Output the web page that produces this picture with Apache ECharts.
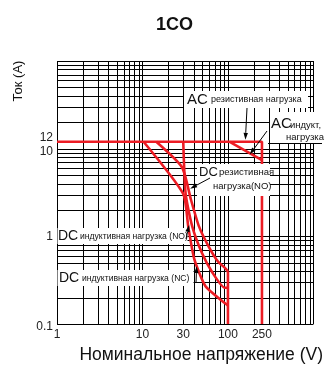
<!DOCTYPE html>
<html>
<head>
<meta charset="utf-8">
<script src="https://cdn.jsdelivr.net/npm/echarts@6/dist/echarts.min.js"></script>
<style>
  html, body { margin: 0; padding: 0; background: #fff; }
  #chart { width: 326px; height: 369px; }
</style>
</head>
<body>
<div id="chart"></div>
<script>
// Tick labels shown on the axes
const xTickLabels = [1, 10, 30, 100, 250];
const yTickLabels = [0.1, 1, 10, 12];

// Switching-capacity boundaries: [voltage V, current A]
const acResistive   = [[1, 12], [250, 12], [250, 0.1]];
const acInductive   = [[105, 12], [250, 7.4]];
const dcResistiveNO = [[14.5, 12], [29, 6.15], [37, 2.6], [45.8, 1.3], [59.3, 0.77], [76, 0.52], [91.5, 0.44], [100, 0.40]];
const dcInductiveNO = [[30, 12], [32, 3.05], [38.2, 1.3], [49.5, 0.65], [66, 0.385], [91.5, 0.26], [100, 0.26]];
const dcInductiveNC = [[10.3, 12], [30, 3.05], [34.3, 1.3], [40.4, 0.55], [54.6, 0.27], [85, 0.185], [100, 0.163]];
const dcVoltageLimit = [[100, 0.40], [100, 0.1]];

// Logarithmic paper: a line at every 1..9 step of each decade
const xDecades = [1, 10, 100];
const yDecades = [0.1, 1, 10];
const gridX = [], gridY = [];
xDecades.forEach(d => { for (let k = 1; k <= 9; k++) gridX.push([k * d, 1]); });
gridX.push([1000, 1]);
yDecades.forEach(d => { for (let k = 1; k <= 9; k++) gridY.push([10, +(k * d).toPrecision(6)]); });
gridY.push([10, 100]);

const RED = '#ec1c24';
const FONT = '"Liberation Sans", Arial, sans-serif';
const NARROW = '"Liberation Sans Narrow", "Liberation Sans", Arial, sans-serif';

function fmt(v) { return String(+(+v).toPrecision(6)); }

function redLine(name, data, smooth) {
  return {
    name, type: 'line', data, symbol: 'none', z: 5, smooth: smooth || false,
    lineStyle: { color: RED, width: 2.6 },
    emphasis: { disabled: true }, silent: true
  };
}

const option = {
  animation: false,
  title: {
    text: '1CO', left: 151, top: 11,
    textStyle: { fontSize: 18, fontWeight: 'bold', fontFamily: FONT, color: '#111' }
  },
  grid: { left: 57, right: 4, top: 61, bottom: 40 },
  xAxis: {
    type: 'log', logBase: 10, min: 1, max: 1000,
    name: 'Номинальное напряжение (V)', nameLocation: 'middle', nameGap: 16,
    nameTextStyle: { fontSize: 17.5, fontFamily: FONT, color: '#111', padding: [0, 0, 0, 32] },
    axisLine: { show: false }, axisTick: { show: false }, splitLine: { show: false },
    axisLabel: {
      customValues: xTickLabels, formatter: fmt, margin: 5,
      fontSize: 12, fontFamily: FONT, color: '#222'
    }
  },
  yAxis: {
    type: 'log', logBase: 10, min: 0.1, max: 100,
    axisLine: { show: false }, axisTick: { show: false }, splitLine: { show: false },
    axisLabel: {
      customValues: yTickLabels, margin: 4,
      fontSize: 12, fontFamily: FONT, color: '#222',
      formatter: v => {
        const s = fmt(v);
        if (s === '12') return '{up|12}';
        if (s === '10') return '{dn|10}';
        if (s === '0.1') return '{lo|0.1}';
        return s;
      },
      rich: {
        up: { fontSize: 12, fontFamily: FONT, color: '#222', padding: [0, 0, 8, 0] },
        dn: { fontSize: 12, fontFamily: FONT, color: '#222', padding: [6, 0, 0, 0] },
        lo: { fontSize: 12, fontFamily: FONT, color: '#222', padding: [6, 0, 0, 0] }
      }
    }
  },
  series: [
    {
      type: 'custom', name: 'gridX', data: gridX, z: 1, silent: true,
      renderItem: (params, api) => {
        const p = api.coord([api.value(0), 1]);
        const cs = params.coordSys;
        const x = Math.round(p[0]) + 0.5;
        return { type: 'line', shape: { x1: x, y1: cs.y, x2: x, y2: cs.y + cs.height },
                 style: { stroke: '#000', lineWidth: 1 } };
      }
    },
    {
      type: 'custom', name: 'gridY', data: gridY, z: 1, silent: true,
      renderItem: (params, api) => {
        const p = api.coord([10, api.value(1)]);
        const cs = params.coordSys;
        const y = Math.round(p[1]) + 0.5;
        return { type: 'line', shape: { x1: cs.x, y1: y, x2: cs.x + cs.width, y2: y },
                 style: { stroke: '#000', lineWidth: 1 } };
      }
    },
    redLine('AC резистивная нагрузка', acResistive),
    redLine('AC индукт. нагрузка', acInductive),
    redLine('DC резистивная нагрузка (NO)', dcResistiveNO, 0.2),
    redLine('DC индуктивная нагрузка (NO)', dcInductiveNO, 0.2),
    redLine('DC индуктивная нагрузка (NC)', dcInductiveNC, 0.2),
    redLine('DC 100 V', dcVoltageLimit)
  ]
};

const chart = echarts.init(document.getElementById('chart'));
chart.setOption(option);

const toPx = p => chart.convertToPixel({ gridIndex: 0 }, p);

// Leader arrow from a caption to a point on a curve (target given in data units)
function arrow(tail, target, dx, dy) {
  const tip = toPx(target);
  tip[0] += dx || 0; tip[1] += dy || 0;
  const a = Math.atan2(tip[1] - tail[1], tip[0] - tail[0]);
  const L = 7, W = 2.2;
  const bx = tip[0] - L * Math.cos(a), by = tip[1] - L * Math.sin(a);
  const nx = -Math.sin(a) * W, ny = Math.cos(a) * W;
  return [
    { type: 'line', z: 20, shape: { x1: tail[0], y1: tail[1], x2: bx, y2: by }, style: { stroke: '#000', lineWidth: 1 } },
    { type: 'polygon', z: 20, shape: { points: [tip, [bx + nx, by + ny], [bx - nx, by - ny]] }, style: { fill: '#000' } }
  ];
}

function box(x, y, w, h) {
  return { type: 'rect', z: 10, shape: { x, y, width: w, height: h }, style: { fill: '#fff' } };
}

function txt(text, x, y, size, font) {
  return { type: 'text', z: 11, x, y,
           style: { text, font: size + 'px ' + (font || FONT), fill: '#111', textVerticalAlign: 'middle' } };
}

const graphics = [
  { type: 'text', z: 11, x: 18, y: 81, rotation: Math.PI / 2,
    style: { text: 'Ток (A)', font: '13px ' + FONT, fill: '#111', textAlign: 'center', textVerticalAlign: 'middle' } },

  box(184, 91, 124, 17),
  txt('AC', 187, 100, 15),
  txt('резистивная нагрузка', 211, 100, 9, NARROW),
  ...arrow([247, 108], [160, 12], 0, -2),

  box(270, 112, 52, 32),
  txt('AC', 271, 124, 15),
  txt('индукт,', 290, 125, 9.5, NARROW),
  txt('нагрузка', 286, 137, 9.5, NARROW),
  { type: 'line', z: 11, shape: { x1: 268, y1: 143.5, x2: 322, y2: 143.5 }, style: { stroke: '#000', lineWidth: 1 } },
  ...arrow([267, 131], [185, 8.8], -1, 1),

  box(197, 164, 73, 32),
  txt('DC', 199, 172, 13, NARROW),
  txt('резистивная', 219, 172, 9.5, NARROW),
  txt('нагрузка(NO)', 213, 186, 9.5, NARROW),
  ...arrow([210, 178], [34.2, 3.5], 2, 0),

  box(57.5, 228, 130, 16),
  txt('DC', 58, 236, 14, NARROW),
  txt('индуктивная нагрузка (NO)', 80, 237, 8.6, NARROW),
  ...arrow([186, 239], [37, 1.35], -2, 0),

  box(57.5, 270, 136, 16),
  txt('DC', 59, 278, 14, NARROW),
  txt('индуктивная нагрузка (NC)', 82, 279, 8.6, NARROW),
  ...arrow([196, 283], [43, 0.47], 0, 1)
];

chart.setOption({ graphic: { elements: graphics } });
</script>
</body>
</html>
